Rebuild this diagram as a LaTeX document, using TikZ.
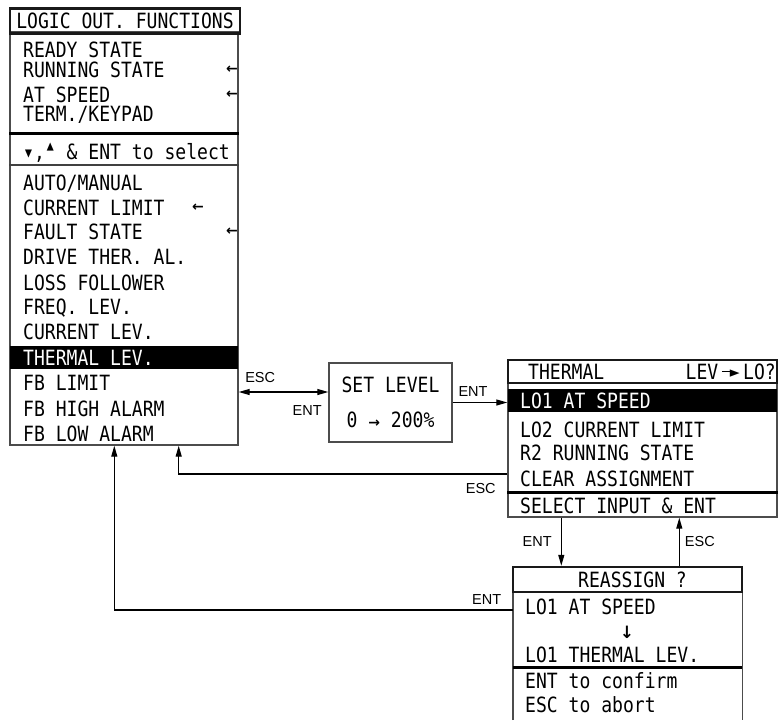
\documentclass[tikz,border=0pt]{standalone}
\usepackage{fontspec}
\setmainfont{Liberation Sans}
\newfontfamily\lcdfont[FakeStretch=0.86]{DejaVu Sans Mono}
\newfontfamily\symfont{DejaVu Sans}
\usetikzlibrary{positioning, arrows.meta}
\tikzset{
  every node/.style={font=\lcdfont\fontsize{21pt}{23pt}\selectfont},
  arr/.style={-{Triangle[length=11pt, width=6pt]}, line width=1.2pt},
  arrboth/.style={{Triangle[length=11pt, width=6pt]}-{Triangle[length=11pt, width=6pt]}, line width=1.2pt},
  panel/.style={draw=black!70, line width=1.4pt, inner sep=0pt},
  titlebox/.style={draw=black!90, line width=2.4pt, inner sep=0pt},
  lcdrow/.style={anchor=west, inner sep=0pt, text height=15pt, text depth=0pt},
  hilite/.style={fill=black, anchor=west, inner sep=0pt, minimum height=23pt},
  flag/.style={inner sep=0pt, font=\symfont\bfseries\fontsize{14pt}{14pt}\selectfont},
  divider/.style={line width=3pt},
  sepline/.style={line width=1.2pt, draw=black!75},
  keylbl/.style={font=\normalfont\fontsize{14.5pt}{16pt}\selectfont, inner sep=1pt},
}
\begin{document}
\begin{tikzpicture}[x=1pt, y=-1pt]
  \useasboundingbox (0,0) rectangle (778,720);
  % logic out. functions
  \node[panel, minimum width=228, minimum height=413] (lof) at (124,238.5) {};
  \node[titlebox, minimum width=230, minimum height=25] (lofTitle) at (125,21) {LOGIC OUT. FUNCTIONS};
  \node[lcdrow] (lofReady) at (23,49.5) {READY STATE};
  \node[lcdrow] (lofRun) at (23,70) {RUNNING STATE};
  \node[lcdrow] (lofSpeed) at (23,95) {AT SPEED};
  \node[lcdrow] (lofTerm) at (23,114) {TERM./KEYPAD};
  \node[flag] (lofRunFlag) at (232,70) {←};
  \node[flag] (lofSpeedFlag) at (232,95) {←};
  \draw[divider] (lof.west |- 0,133) -- (lof.east |- 0,133);
  \node[lcdrow] (lofHint) at (23,152) {▾,\raisebox{7pt}{▴} \& ENT to select};
  \draw[sepline] (lof.west |- 0,165) -- (lof.east |- 0,165);
  \node[lcdrow] (lofAuto) at (23,183) {AUTO/MANUAL};
  \node[lcdrow] (lofCurLim) at (23,207.5) {CURRENT LIMIT};
  \node[lcdrow] (lofFault) at (23,232) {FAULT STATE};
  \node[lcdrow] (lofDrive) at (23,257) {DRIVE THER. AL.};
  \node[lcdrow] (lofLoss) at (23,283) {LOSS FOLLOWER};
  \node[lcdrow] (lofFreq) at (23,307) {FREQ. LEV.};
  \node[lcdrow] (lofCurLev) at (23,332) {CURRENT LEV.};
  \node[hilite, minimum width=228] (lofBar) at (10,357.5) {};
  \node[lcdrow, text=white] (lofThermal) at (23,357.5) {THERMAL LEV.};
  \node[lcdrow] (lofFbLim) at (23,383) {FB LIMIT};
  \node[lcdrow] (lofFbHigh) at (23,409) {FB HIGH ALARM};
  \node[lcdrow] (lofFbLow) at (23,434) {FB LOW ALARM};
  \node[flag] (lofCurLimFlag) at (198,207.5) {←};
  \node[flag] (lofFaultFlag) at (232,232) {←};

  % set level
  \node[panel, minimum width=123, minimum height=79, align=center] (setLevel) at (390.5,402.5)
    {SET LEVEL\\[12pt]0 {\symfont\bfseries\fontsize{14pt}{14pt}\selectfont→} 200\%};

  % thermal lev -> LO?
  \node[panel, minimum width=269, minimum height=134] (th) at (642.5,450) {};
  \node[titlebox, minimum width=269, minimum height=23] (thTitle) at (642.5,371.5) {};
  \node[lcdrow] (thName) at (528,371.5) {THERMAL};
  \node[lcdrow, anchor=east] (thLev) at (776,371.5)
    {LEV\,\rule[6.8pt]{8pt}{1.6pt}{\fontsize{19pt}{19pt}\selectfont\raisebox{0.5pt}{►}}\,LO?};
  \node[hilite, minimum width=269] (thBar) at (508,400.5) {};
  \node[lcdrow, text=white] (thSpeed) at (520,400.5) {LO1 AT SPEED};
  \node[lcdrow] (thCur) at (520,429.5) {LO2 CURRENT LIMIT};
  \node[lcdrow] (thRun) at (520,452.5) {R2 RUNNING STATE};
  \node[lcdrow] (thClear) at (520,479) {CLEAR ASSIGNMENT};
  \draw[divider] (th.west |- 0,492) -- (th.east |- 0,492);
  \node[lcdrow] (thSelect) at (520,506) {SELECT INPUT \& ENT};

  % reassign ?
  \node[minimum width=229, minimum height=128, inner sep=0pt] (ra) at (627.5,656) {};
  \draw[panel] (ra.south west) -- (ra.north west);
  \draw[panel] (ra.north east) -- (ra.south east);
  \node[titlebox, minimum width=229, minimum height=25] (raTitle) at (627.5,579.5) {\hspace*{10pt}REASSIGN ?};
  \node[lcdrow] (raOld) at (525,607) {LO1 AT SPEED};
  \node[flag, font=\symfont\bfseries\fontsize{17pt}{17pt}\selectfont] (raDown) at (627,632) {↓};
  \node[lcdrow] (raNew) at (525,655) {LO1 THERMAL LEV.};
  \draw[divider] (ra.west |- 0,667) -- (ra.east |- 0,667);
  \node[lcdrow] (raOk) at (525,681) {ENT to confirm};
  \node[lcdrow] (raAbort) at (525,704.5) {ESC to abort};

  % connectors
  \coordinate (escPt) at ([yshift=10.5pt]setLevel.west);
  \coordinate (escBack) at ([yshift=-24pt]th.west);
  \coordinate (entDown) at ([xshift=54pt]th.south west);
  \coordinate (escUp) at ([xshift=172pt]th.south west);
  \coordinate (entBack) at ([yshift=46pt]ra.west);
  \draw[arrboth] (escPt -| lof.east) --
    node[keylbl, pos=0, anchor=south west, xshift=5pt, yshift=8pt] {ESC}
    node[keylbl, pos=1, anchor=north east, xshift=-5pt, yshift=-12pt] {ENT} (escPt);
  \draw[arr] (setLevel.east) -- node[keylbl, above, xshift=-7pt, yshift=4pt] {ENT} (setLevel.east -| th.west);
  \draw[arr] (escBack) -| node[keylbl, pos=0, anchor=north east, xshift=-10pt, yshift=-8pt] {ESC}
    ([xshift=-60pt]lof.south east);
  \draw[arr] (entDown) -- node[keylbl, left, xshift=-8pt] {ENT} (entDown |- raTitle.north);
  \draw[arr] (escUp |- raTitle.north) -- node[keylbl, right, xshift=4pt] {ESC} (escUp);
  \draw[arr] (entBack) -| node[keylbl, pos=0, anchor=south east, xshift=-10pt, yshift=4pt] {ENT}
    ([xshift=105pt]lof.south west);
\end{tikzpicture}
\end{document}
